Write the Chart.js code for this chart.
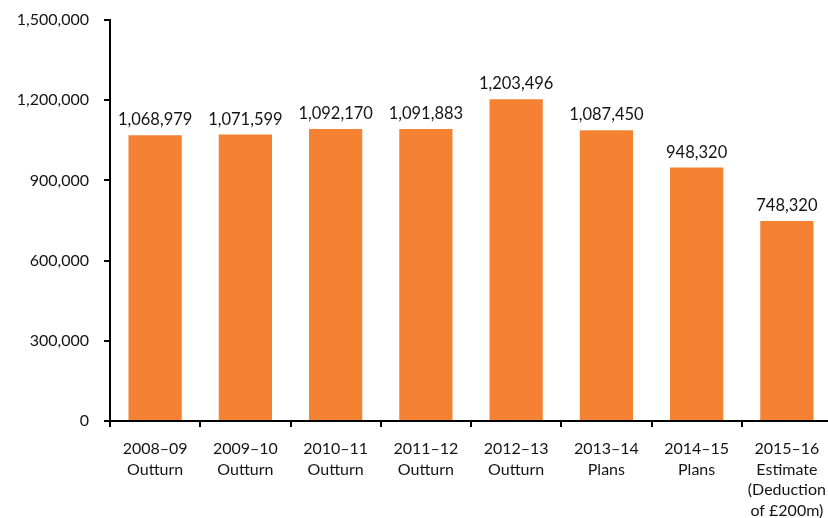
<!DOCTYPE html>
<html>
<head>
<meta charset="utf-8">
<script src="https://cdn.jsdelivr.net/npm/chart.js@4/dist/chart.umd.min.js"></script>
<style>
  html, body { margin: 0; padding: 0; background: #fff; overflow: hidden; }
  #wrap { width: 860px; height: 518px; }
</style>
</head>
<body>
<div id="wrap"><canvas id="chart" width="860" height="518"></canvas></div>
<script>
const categories = [
  ['2008–09', 'Outturn'],
  ['2009–10', 'Outturn'],
  ['2010–11', 'Outturn'],
  ['2011–12', 'Outturn'],
  ['2012–13', 'Outturn'],
  ['2013–14', 'Plans'],
  ['2014–15', 'Plans'],
  ['2015–16', 'Estimate', '(Deduction', 'of £200m)']
]
const spending = [1068979, 1071599, 1092170, 1091883, 1203496, 1087450, 948320, 748320]
const yTicks = [0, 300000, 600000, 900000, 1200000, 1500000]

const FONT = 'Lato, "Noto Sans", sans-serif'
const INK = '#141414'

// write each bar's value just above it
const valueLabels = {
  id: 'valueLabels',
  afterDatasetsDraw(chart) {
    const ctx = chart.ctx
    const meta = chart.getDatasetMeta(0)
    ctx.save()
    ctx.font = '16.5px ' + FONT
    ctx.fillStyle = INK
    ctx.textAlign = 'center'
    ctx.textBaseline = 'bottom'
    meta.data.forEach((bar, i) => {
      ctx.fillText(spending[i].toLocaleString('en-GB'), bar.x, bar.y - 7)
    })
    ctx.restore()
  }
}

new Chart(document.getElementById('chart'), {
  type: 'bar',
  data: {
    labels: categories,
    datasets: [{
      data: spending,
      backgroundColor: '#F58233',
      borderWidth: 0,
      categoryPercentage: 1,
      barPercentage: 0.59
    }]
  },
  options: {
    responsive: false,
    animation: false,
    events: [],
    layout: { padding: { top: 0, right: 28, left: 0, bottom: 0 } },
    plugins: { legend: { display: false }, tooltip: { enabled: false } },
    scales: {
      x: {
        afterFit(scale) { scale.height = 97 },
        grid: {
          offset: true,
          drawOnChartArea: false,
          drawTicks: true,
          tickLength: 6,
          color: '#000',
          lineWidth: 2
        },
        border: { display: true, color: '#000', width: 2 },
        ticks: {
          color: INK,
          font: { family: FONT, size: 16, lineHeight: '20.5px' },
          padding: 12,
          maxRotation: 0,
          autoSkip: false
        }
      },
      y: {
        min: 0,
        max: 1500000,
        afterFit(scale) {
          scale.width = 110
          scale.paddingTop = 20
          scale.paddingBottom = 0
        },
        afterBuildTicks(scale) { scale.ticks = yTicks.map(v => ({ value: v })) },
        grid: {
          drawOnChartArea: false,
          drawTicks: true,
          tickLength: 6,
          color: '#000',
          lineWidth: 2
        },
        border: { display: true, color: '#000', width: 2 },
        ticks: {
          color: INK,
          font: { family: FONT, size: 16 },
          padding: 15,
          callback: v => v.toLocaleString('en-GB')
        }
      }
    }
  },
  plugins: [valueLabels]
})
</script>
</body>
</html>
